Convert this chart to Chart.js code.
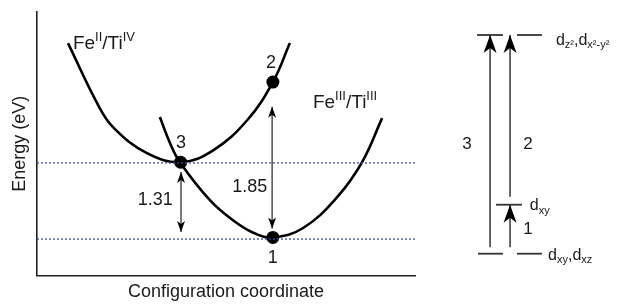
<!DOCTYPE html>
<html>
<head>
<meta charset="utf-8">
<script src="https://cdn.jsdelivr.net/npm/chart.js@4.4.1/dist/chart.umd.min.js"></script>
<style>
  html, body { margin: 0; padding: 0; background: #fff; }
  #wrap { position: relative; width: 622px; height: 304px; }
  #curves { position: absolute; left: 0; top: 0; }
  #levels { position: absolute; left: 430px; top: 0; }
</style>
</head>
<body>
<div id="wrap">
  <canvas id="curves" width="430" height="304"></canvas>
  <canvas id="levels" width="192" height="304"></canvas>
</div>
<script>
// ---- left panel: configuration coordinate diagram (arbitrary units 0-10) ----
const feIITiIV = [[0.82, 8.82], [1.59, 6.54], [2.01, 5.63], [2.91, 4.64], [3.81, 4.30], [4.66, 4.75], [5.56, 5.89], [6.24, 7.34], [6.69, 8.82]]
const feIIITiIII = [[3.25, 6.01], [3.52, 5.02], [3.78, 4.30], [4.58, 2.85], [5.19, 2.09], [5.71, 1.63], [6.24, 1.44], [7.04, 1.80], [7.94, 2.97], [8.60, 4.30], [9.13, 5.97]]
const stateLevels = [4.27, 1.38]
const statePoints = [[3.80, 4.30], [6.24, 7.34], [6.24, 1.44]]
const stateLabels = ['3', '2', '1']
const stateLabelAt = [[3.81, 5.02], [6.19, 8.05], [6.24, 0.65]]
const gapLabels = ['1.31', '1.85']
const gapX = [3.81, 6.22]
const gapFrom = [1.65, 1.78]
const gapTo = [3.93, 6.40]
const gapLabelAt = [[3.13, 2.86], [5.63, 3.35]]
const curveNames = [[['Fe'], ['II', 'sup'], ['/Ti'], ['IV', 'sup']], [['Fe'], ['III', 'sup'], ['/Ti'], ['III', 'sup']]]
const curveNameAt = [[0.95, 8.59], [7.30, 6.35]]

// ---- right panel: d-orbital levels (lower level = 0, upper = 10) ----
const orbitalEnergy = [10, 2.24, 0]
const orbitalSpans = [[[2.45, 3.80], [4.53, 5.83]], [[3.44, 4.79]], [[2.50, 3.80], [4.53, 5.83]]]
const orbitalNames = [
  [['d'], ['z²', 'sub'], [',d'], ['x²-y²', 'sub']],
  [['d'], ['xy', 'sub']],
  [['d'], ['xy', 'sub'], [',d'], ['xz', 'sub']]
]
const orbitalNameAt = [[6.56, 9.56], [5.20, 2.01], [6.15, -0.27]]
const transitionLabels = ['3', '2', '1']
const transitionX = [3.13, 4.17, 4.17]
const transitionFrom = [0.3, 2.6, 0.3]
const transitionTo = [10, 10, 2.24]
const transitionLabelAt = [[1.93, 4.98], [5.10, 4.98], [5.10, 1.10]]

const FONT = "'Liberation Sans', Arial, sans-serif"
const INK = '#1a1a1a'

function drawRich(ctx, parts, x, y, base) {
  const small = Math.round(base * 0.68)
  const style = k => k === 'sup' ? [small, -base * 0.42] : k === 'sub' ? [small, base * 0.24] : [base, 0]
  ctx.save()
  ctx.fillStyle = INK
  ctx.textBaseline = 'alphabetic'
  ctx.textAlign = 'left'
  let cx = x
  parts.forEach(([t, k]) => {
    const [size, dy] = style(k)
    ctx.font = size + 'px ' + FONT
    ctx.fillText(t, cx, y + dy)
    cx += ctx.measureText(t).width
  })
  ctx.restore()
}

function drawPlain(ctx, text, x, y, size) {
  ctx.save()
  ctx.fillStyle = INK
  ctx.font = size + 'px ' + FONT
  ctx.textAlign = 'center'
  ctx.textBaseline = 'middle'
  ctx.fillText(text, x, y)
  ctx.restore()
}

function drawHead(ctx, tip, from, len, half, notch) {
  const ang = Math.atan2(tip.y - from.y, tip.x - from.x)
  ctx.save()
  ctx.translate(tip.x, tip.y)
  ctx.rotate(ang)
  ctx.beginPath()
  ctx.moveTo(0, 0)
  ctx.lineTo(-len, -half)
  ctx.lineTo(-len + notch, 0)
  ctx.lineTo(-len, half)
  ctx.closePath()
  ctx.fillStyle = '#000'
  ctx.fill()
  ctx.restore()
}

const arrowHeads = {
  id: 'arrowHeads',
  afterDatasetsDraw(chart) {
    chart.data.datasets.forEach((ds, i) => {
      if (!ds.heads) return
      const pts = chart.getDatasetMeta(i).data
      const a = pts[0], b = pts[pts.length - 1]
      drawHead(chart.ctx, b, a, ...ds.headSize)
      if (ds.heads === 'both') drawHead(chart.ctx, a, b, ...ds.headSize)
    })
  }
}

function textPlugin(draw) {
  return {
    id: 'texts',
    afterDraw(chart) {
      const { x, y } = chart.scales
      draw(chart.ctx, (vx, vy) => ({ px: x.getPixelForValue(vx), py: y.getPixelForValue(vy) }))
    }
  }
}

const line = (data, extra) => ({
  data: data.map(([x, y]) => ({ x, y })),
  pointRadius: 0,
  fill: false,
  ...extra
})

const baseOptions = {
  responsive: false,
  animation: false,
  devicePixelRatio: 1,
  events: [],
  plugins: { legend: { display: false }, tooltip: { enabled: false } }
}

// left chart
const leftDatasets = [
  ...stateLevels.map(e => line([[0, e], [10, e]], { borderColor: '#3b4aa0', borderWidth: 1.3, borderDash: [2, 2] })),
  line(feIITiIV, { borderColor: '#000', borderWidth: 2.6, tension: 0.4 }),
  line(feIIITiIII, { borderColor: '#000', borderWidth: 2.6, tension: 0.4 }),
  ...gapX.map((x, i) => line([[x, gapFrom[i]], [x, gapTo[i]]], { borderColor: '#222', borderWidth: 1.2, heads: 'both', headSize: [11, 4, 3] })),
  line(statePoints, { showLine: false, pointRadius: 6.5, pointBackgroundColor: '#000', pointBorderColor: '#000', pointBorderWidth: 0 })
]

new Chart(document.getElementById('curves'), {
  type: 'line',
  data: { datasets: leftDatasets },
  options: {
    ...baseOptions,
    layout: { padding: { left: 7.4, top: 12, right: 15, bottom: 0 } },
    scales: {
      x: {
        type: 'linear', min: 0, max: 10,
        grid: { display: false, drawTicks: false },
        ticks: { display: false },
        border: { display: true, color: '#222', width: 1.6 },
        title: { display: true, text: 'Configuration coordinate', color: INK, font: { family: FONT, size: 18 }, padding: { top: 6, bottom: 1 } }
      },
      y: {
        type: 'linear', min: 0, max: 10,
        grid: { display: false, drawTicks: false },
        ticks: { display: false },
        border: { display: true, color: '#222', width: 1.6 },
        title: { display: true, text: 'Energy (eV)', color: INK, font: { family: FONT, size: 18 }, padding: { top: 2, bottom: 6 } }
      }
    }
  },
  plugins: [arrowHeads, textPlugin((ctx, at) => {
    stateLabels.forEach((t, i) => { const p = at(...stateLabelAt[i]); drawPlain(ctx, t, p.px, p.py, 18) })
    gapLabels.forEach((t, i) => { const p = at(...gapLabelAt[i]); drawPlain(ctx, t, p.px, p.py, 18) })
    curveNames.forEach((parts, i) => { const p = at(...curveNameAt[i]); drawRich(ctx, parts, p.px, p.py, 19) })
  })]
})

// right chart
const rightDatasets = [
  ...orbitalSpans.flatMap((spans, i) => spans.map(([x0, x1]) =>
    line([[x0, orbitalEnergy[i]], [x1, orbitalEnergy[i]]], { borderColor: '#333', borderWidth: 1.8 }))),
  ...transitionX.map((x, i) => line([[x, transitionFrom[i]], [x, transitionTo[i]]], { borderColor: '#555', borderWidth: 1.8, heads: 'end', headSize: [18, 6.5, 5] }))
]

new Chart(document.getElementById('levels'), {
  type: 'line',
  data: { datasets: rightDatasets },
  options: {
    ...baseOptions,
    layout: { padding: 0 },
    scales: {
      x: { type: 'linear', display: false, min: 0, max: 10 },
      y: { type: 'linear', display: false, min: -2.3, max: 11.6 }
    }
  },
  plugins: [arrowHeads, textPlugin((ctx, at) => {
    transitionLabels.forEach((t, i) => { const p = at(...transitionLabelAt[i]); drawPlain(ctx, t, p.px, p.py, 17) })
    orbitalNames.forEach((parts, i) => { const p = at(...orbitalNameAt[i]); drawRich(ctx, parts, p.px, p.py, 16) })
  })]
})
</script>
</body>
</html>
